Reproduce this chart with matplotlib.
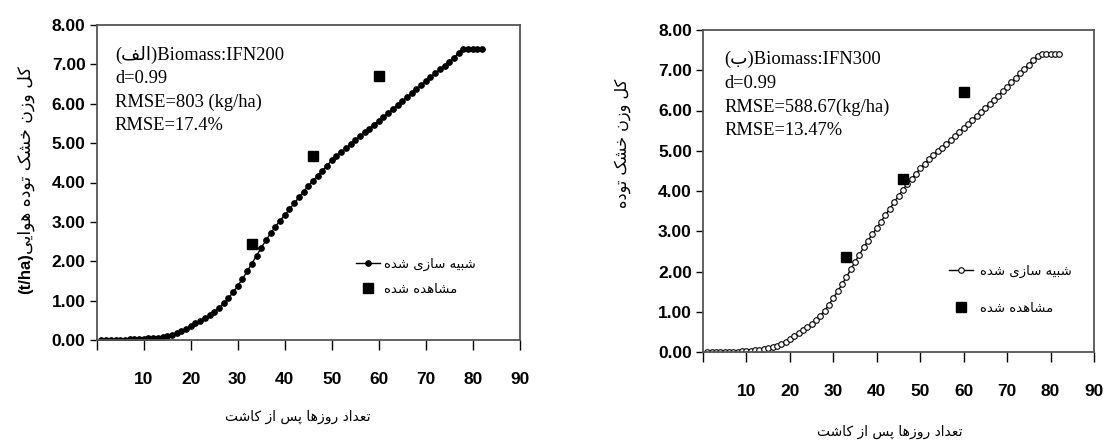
import numpy as np
import matplotlib
matplotlib.use("Agg")
import matplotlib.pyplot as plt

# --- data ---
days = list(range(1, 83))

sim_a = [0.00, 0.00, 0.00, 0.01, 0.01, 0.01, 0.02, 0.02, 0.02, 0.03,
         0.04, 0.05, 0.06, 0.08, 0.10, 0.13, 0.17, 0.22, 0.28, 0.35,
         0.42, 0.49, 0.56, 0.63, 0.71, 0.81, 0.93, 1.06, 1.21, 1.37,
         1.55, 1.74, 1.94, 2.14, 2.34, 2.53, 2.71, 2.88, 3.03, 3.17,
         3.32, 3.47, 3.62, 3.77, 3.91, 4.04, 4.17, 4.30, 4.43, 4.56,
         4.67, 4.77, 4.87, 4.97, 5.07, 5.17, 5.27, 5.37, 5.47, 5.57,
         5.67, 5.77, 5.87, 5.97, 6.07, 6.17, 6.27, 6.37, 6.47, 6.57,
         6.67, 6.77, 6.87, 6.97, 7.07, 7.17, 7.29, 7.40, 7.40, 7.40,
         7.40, 7.40]

sim_b = [0.00, 0.00, 0.00, 0.00, 0.01, 0.01, 0.01, 0.01, 0.02, 0.02,
         0.03, 0.04, 0.05, 0.07, 0.09, 0.12, 0.16, 0.21, 0.26, 0.32,
         0.39, 0.46, 0.54, 0.62, 0.70, 0.79, 0.90, 1.03, 1.18, 1.34,
         1.51, 1.68, 1.86, 2.05, 2.24, 2.42, 2.60, 2.77, 2.93, 3.08,
         3.24, 3.40, 3.56, 3.72, 3.88, 4.03, 4.17, 4.30, 4.43, 4.56,
         4.68, 4.79, 4.89, 4.99, 5.08, 5.17, 5.27, 5.37, 5.47, 5.57,
         5.67, 5.77, 5.87, 5.97, 6.07, 6.17, 6.27, 6.37, 6.48, 6.59,
         6.70, 6.81, 6.92, 7.03, 7.14, 7.25, 7.35, 7.40, 7.40, 7.40,
         7.40, 7.40]

obs_days = [33, 46, 60]
obs_a = [2.45, 4.68, 6.70]
obs_b = [2.35, 4.30, 6.45]

x_ticks = list(range(0, 91, 10))
x_labels = [""] + [str(v) for v in range(10, 91, 10)]
y_ticks = list(range(0, 9))
y_labels = ["%.2f" % v for v in y_ticks]

# persian letters -> (isolated, final, initial, medial)
FORMS = {
    "\u0627": ("\uFE8D", "\uFE8E", None, None),        # alef
    "\u0628": ("\uFE8F", "\uFE90", "\uFE91", "\uFE92"),  # beh
    "\u067E": ("\uFB56", "\uFB57", "\uFB58", "\uFB59"),  # peh
    "\u062A": ("\uFE95", "\uFE96", "\uFE97", "\uFE98"),  # teh
    "\u062E": ("\uFEA5", "\uFEA6", "\uFEA7", "\uFEA8"),  # khah
    "\u062F": ("\uFEA9", "\uFEAA", None, None),        # dal
    "\u0631": ("\uFEAD", "\uFEAE", None, None),        # reh
    "\u0632": ("\uFEAF", "\uFEB0", None, None),        # zain
    "\u0633": ("\uFEB1", "\uFEB2", "\uFEB3", "\uFEB4"),  # seen
    "\u0634": ("\uFEB5", "\uFEB6", "\uFEB7", "\uFEB8"),  # sheen
    "\u0639": ("\uFEC9", "\uFECA", "\uFECB", "\uFECC"),  # ain
    "\u0641": ("\uFED1", "\uFED2", "\uFED3", "\uFED4"),  # feh
    "\u06A9": ("\uFB8E", "\uFB8F", "\uFB90", "\uFB91"),  # keheh
    "\u0644": ("\uFEDD", "\uFEDE", "\uFEDF", "\uFEE0"),  # lam
    "\u0645": ("\uFEE1", "\uFEE2", "\uFEE3", "\uFEE4"),  # meem
    "\u0646": ("\uFEE5", "\uFEE6", "\uFEE7", "\uFEE8"),  # noon
    "\u0647": ("\uFEE9", "\uFEEA", "\uFEEB", "\uFEEC"),  # heh
    "\u0648": ("\uFEED", "\uFEEE", None, None),        # waw
    "\u06CC": ("\uFBFC", "\uFBFD", "\uFBFE", "\uFBFF"),  # farsi yeh
}


def fa(text):
    # join letters and put them in visual (left to right) order
    out = []
    for i, ch in enumerate(text):
        if ch not in FORMS:
            out.append(ch)
            continue
        iso, fin, ini, med = FORMS[ch]
        prev = text[i - 1] if i > 0 else None
        nxt = text[i + 1] if i < len(text) - 1 else None
        jp = prev in FORMS and FORMS[prev][2] is not None
        jn = ini is not None and nxt in FORMS
        if jp and jn:
            out.append(med)
        elif jp:
            out.append(fin)
        elif jn:
            out.append(ini)
        else:
            out.append(iso)
    return "".join(out)[::-1]


ylab_a = fa("کل وزن خشک توده هوایی")
ylab_b = fa("کل وزن خشک توده")
xlab = fa("تعداد روزها پس از کاشت")
leg_sim = fa("شبیه سازی شده")
leg_obs = fa("مشاهده شده")

tick_font = ["Liberation Sans Narrow", "Liberation Sans", "DejaVu Sans"]
serif_font = ["Liberation Serif", "DejaVu Sans"]
fa_font = ["DejaVu Sans"]
edge = "#555555"

fig = plt.figure(figsize=(11.07, 4.46), dpi=100)
ax1 = fig.add_axes([96.7 / 1107, (446 - 340) / 446, 423 / 1107, 315 / 446])
ax2 = fig.add_axes([703 / 1107, (446 - 352) / 446, 391 / 1107, 322 / 446])

panels = [
    (ax1, sim_a, obs_a, "black", 0.043,
     ["(" + fa("الف") + ")Biomass:IFN200", "d=0.99",
      "RMSE=803 (kg/ha)", "RMSE=17.4%"]),
    (ax2, sim_b, obs_b, "white", 0.054,
     ["(" + fa("ب") + ")Biomass:IFN300", "d=0.99",
      "RMSE=588.67(kg/ha)", "RMSE=13.47%"]),
]

for ax, sim, obs, mfc, tx, lines in panels:
    ax.plot(days, sim, color="black", lw=1.0, marker="o", ms=4.0,
            mfc=mfc, mec="black", mew=0.8, label=leg_sim)
    ax.plot(obs_days, obs, ls="none", marker="s", ms=7.5, color="black",
            label=leg_obs)
    ax.set_xlim(0, 90)
    ax.set_ylim(0, 8)
    ax.set_xticks(x_ticks)
    ax.set_xticklabels(x_labels)
    ax.set_yticks(y_ticks)
    ax.set_yticklabels(y_labels)
    for lab in ax.get_xticklabels() + ax.get_yticklabels():
        lab.set_family(tick_font)
        lab.set_fontweight("bold")
        lab.set_fontsize(12.5)
    ax.tick_params(axis="x", direction="out", length=7, width=1.0,
                   pad=16, colors="black")
    ax.tick_params(axis="y", direction="out", length=5, width=1.0,
                   pad=3, colors="black")
    for s in ax.spines.values():
        s.set_color(edge)
        s.set_linewidth(1.3)
    ax.text(tx, 0.935, "\n".join(lines), transform=ax.transAxes,
            family=serif_font, fontsize=13.3, va="top", ha="left",
            linespacing=1.5)

ax1.legend(loc="center left", bbox_to_anchor=(0.585, 0.2),
           frameon=False, prop={"family": fa_font, "size": 9.5},
           handlelength=1.8, labelspacing=0.9, handletextpad=0.3)
ax2.legend(loc="center left", bbox_to_anchor=(0.6, 0.193),
           frameon=False, prop={"family": fa_font, "size": 9.5},
           handlelength=1.8, labelspacing=1.8, handletextpad=0.5)

# left y label: persian part plus bold unit
fig.text(26 / 1107, 1 - 160 / 446, ylab_a, rotation=90, ha="center",
         va="center", family=fa_font, fontsize=12.5)
fig.text(26 / 1107, 1 - 274 / 446, "(t/ha)", rotation=90, ha="center",
         va="center", family=tick_font, fontweight="bold", fontsize=12)
fig.text(623 / 1107, 1 - 143 / 446, ylab_b, rotation=90, ha="center",
         va="center", family=fa_font, fontsize=11.5)
fig.text(298 / 1107, 1 - 417 / 446, xlab, ha="center", va="center",
         family=fa_font, fontsize=10)
fig.text(890 / 1107, 1 - 432 / 446, xlab, ha="center", va="center",
         family=fa_font, fontsize=10)

fig.savefig("out.png", dpi=100)
